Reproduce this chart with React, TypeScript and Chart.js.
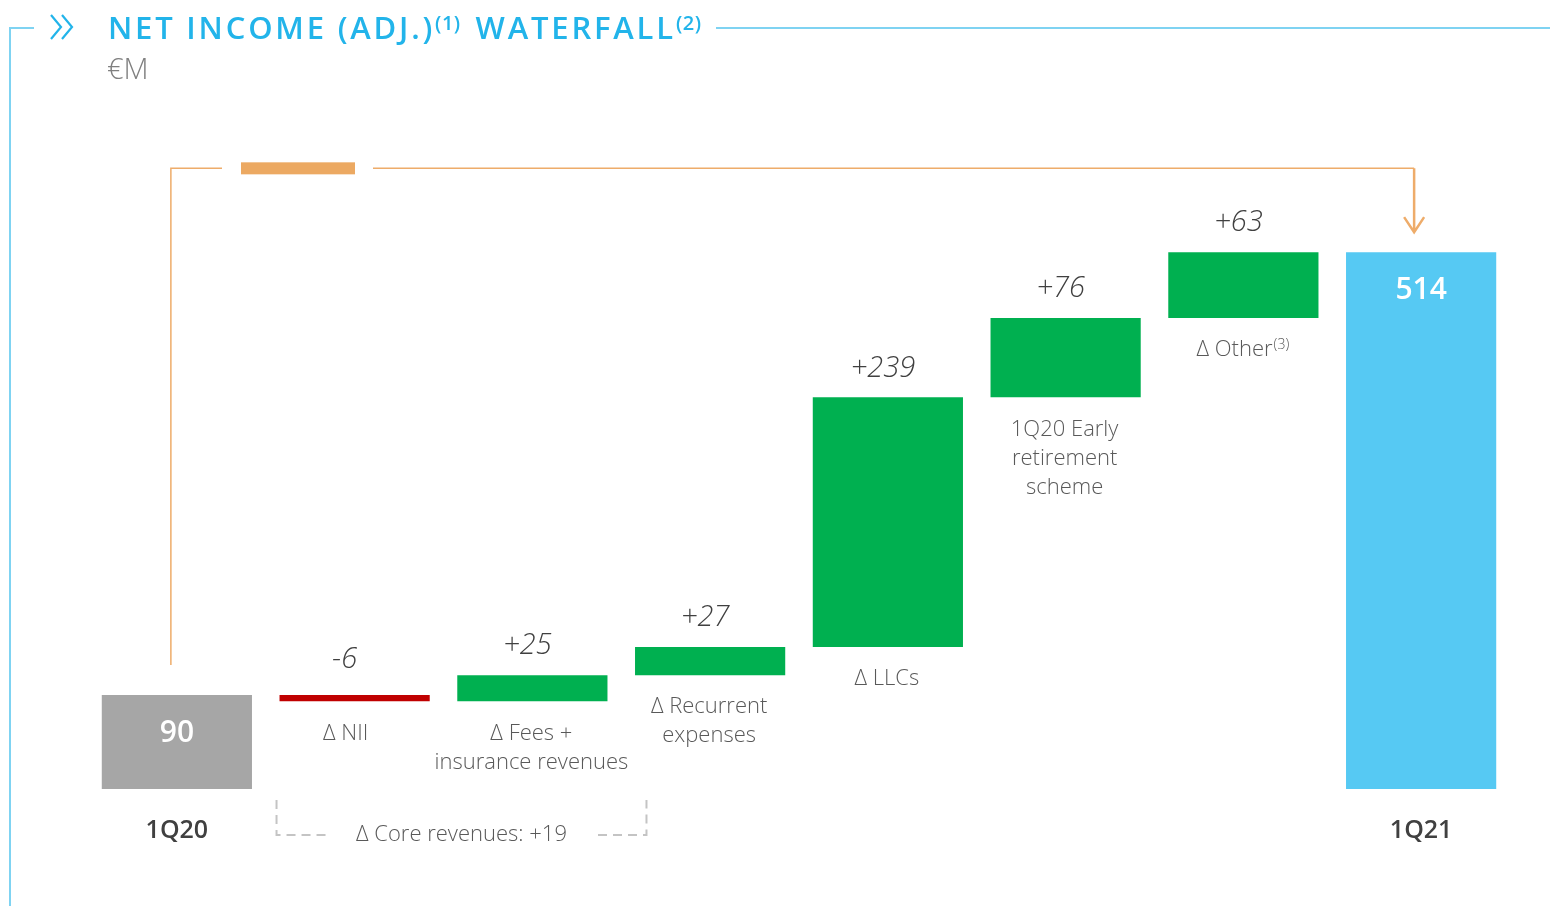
import React, { useEffect, useRef } from "react";
import { Chart, registerables } from "chart.js";

Chart.register(...registerables);

const categories: string[][] = [
  ["1Q20"],
  ["Δ NII"],
  ["Δ Fees +", "insurance revenues"],
  ["Δ Recurrent", "expenses"],
  ["Δ LLCs"],
  ["1Q20 Early", "retirement", "scheme"],
  ["Δ Other"],
  ["1Q21"],
];
const startValue = 90;
const changes = [-6, 25, 27, 239, 76, 63];
const endValue = 514;
const valueLabels = ["90", "-6", "+25", "+27", "+239", "+76", "+63", "514"];
const barColors = ["#a6a6a6", "#c00000", "#00b050", "#00b050", "#00b050", "#00b050", "#00b050", "#56c9f3"];
const coreRevenuesLabel = "Δ Core revenues: +19";
const titleParts = ["NET INCOME (ADJ.)", "(1)", " WATERFALL", "(2)"];
const unitLabel = "€M";
const yMax = 600;

function buildRanges(): [number, number][] {
  const out: [number, number][] = [[0, startValue]];
  let cur = startValue;
  for (const c of changes) {
    const next = cur + c;
    out.push([Math.min(cur, next), Math.max(cur, next)]);
    cur = next;
  }
  out.push([0, endValue]);
  return out;
}

const FONT = "'Open Sans', 'Noto Sans', sans-serif";

const decorPlugin = {
  id: "decor",
  afterDatasetsDraw(chart: any) {
    const ctx: CanvasRenderingContext2D = chart.ctx;
    const bars = chart.getDatasetMeta(0).data;
    const area = chart.chartArea;
    ctx.save();

    // frame
    ctx.strokeStyle = "#7fd3f2";
    ctx.lineWidth = 2;
    ctx.beginPath();
    ctx.moveTo(34, 28);
    ctx.lineTo(10, 28);
    ctx.lineTo(10, 906);
    ctx.stroke();
    ctx.beginPath();
    ctx.moveTo(716, 28);
    ctx.lineTo(1550, 28);
    ctx.stroke();

    // chevrons
    ctx.strokeStyle = "#22b4ea";
    ctx.lineWidth = 2.2;
    ctx.beginPath();
    ctx.moveTo(51, 15);
    ctx.lineTo(61, 27);
    ctx.lineTo(51, 39);
    ctx.moveTo(62, 15);
    ctx.lineTo(72, 27);
    ctx.lineTo(62, 39);
    ctx.stroke();

    // title
    ctx.fillStyle = "#22b4ea";
    ctx.textBaseline = "alphabetic";
    ctx.textAlign = "left";
    let tx = 108;
    titleParts.forEach((p, i) => {
      const sup = i % 2 === 1;
      ctx.font = sup ? `600 20px ${FONT}` : `600 31px ${FONT}`;
      (ctx as any).letterSpacing = sup ? "0.5px" : "2.8px";
      ctx.fillText(p, tx, sup ? 30 : 39);
      tx += ctx.measureText(p).width + (sup ? 4 : 0);
    });
    (ctx as any).letterSpacing = "0px";

    ctx.fillStyle = "#7f7f7f";
    ctx.font = `300 29px ${FONT}`;
    ctx.fillText(unitLabel, 107, 79);

    // orange bracket
    const b0 = bars[0];
    const bN = bars[bars.length - 1];
    const topY = area.top + 6;
    const lx = b0.x - 6;
    const rx = bN.x - 7;
    ctx.strokeStyle = "#eeac6a";
    ctx.lineWidth = 1.5;
    ctx.beginPath();
    ctx.moveTo(lx, 665);
    ctx.lineTo(lx, topY);
    ctx.lineTo(222, topY);
    ctx.moveTo(373, topY);
    ctx.lineTo(rx, topY);
    ctx.stroke();
    ctx.lineWidth = 2.5;
    ctx.beginPath();
    ctx.moveTo(rx, topY);
    ctx.lineTo(rx, bN.y - 20);
    ctx.moveTo(rx - 10, bN.y - 35);
    ctx.lineTo(rx, bN.y - 20);
    ctx.lineTo(rx + 10, bN.y - 35);
    ctx.stroke();
    ctx.fillStyle = "#eca962";
    ctx.fillRect(241, topY - 6, 114, 12);

    // value labels & category labels
    bars.forEach((bar: any, i: number) => {
      const top = Math.min(bar.y, bar.base);
      const bottom = Math.max(bar.y, bar.base);
      const isTotal = i === 0 || i === bars.length - 1;
      ctx.textAlign = "center";
      ctx.textBaseline = "middle";
      if (isTotal) {
        ctx.fillStyle = "#ffffff";
        ctx.font = `600 30px ${FONT}`;
        ctx.fillText(valueLabels[i], bar.x, top + 38);
        ctx.fillStyle = "#404040";
        ctx.font = `600 25px ${FONT}`;
        ctx.fillText(categories[i][0], bar.x, 831);
      } else {
        ctx.fillStyle = "#404040";
        ctx.font = `italic 300 29px ${FONT}`;
        ctx.fillText(valueLabels[i], bar.x - (i === 1 ? 10 : 5), top - (i === 1 ? 35 : 29));
        ctx.fillStyle = "#595959";
        const lines = categories[i];
        lines.forEach((ln, k) => {
          const y = bottom + 32 + k * 29;
          const cx = bar.x - (i === 1 ? 9 : 1);
          if (i === 6) {
            ctx.font = `300 22px ${FONT}`;
            const w1 = ctx.measureText(ln).width;
            ctx.font = `300 14px ${FONT}`;
            const w2 = ctx.measureText("(3)").width;
            const sx = cx - (w1 + w2) / 2;
            ctx.textAlign = "left";
            ctx.font = `300 22px ${FONT}`;
            ctx.fillText(ln, sx, y);
            ctx.font = `300 14px ${FONT}`;
            ctx.fillText("(3)", sx + w1 + 1, y - 5);
            ctx.textAlign = "center";
          } else {
            ctx.font = `300 22px ${FONT}`;
            ctx.fillText(ln, cx, y);
          }
        });
      }
    });

    // core revenues bracket
    const nii = bars[1];
    const fees = bars[2];
    const bl = nii.x - nii.width / 2 - 3;
    const br = fees.x + fees.width / 2 + 39;
    const by = 835;
    ctx.strokeStyle = "#c4c4c4";
    ctx.lineWidth = 2;
    ctx.setLineDash([9, 6]);
    ctx.beginPath();
    ctx.moveTo(bl, 800);
    ctx.lineTo(bl, by);
    ctx.lineTo(330, by);
    ctx.moveTo(598, by);
    ctx.lineTo(br, by);
    ctx.lineTo(br, 800);
    ctx.stroke();
    ctx.setLineDash([]);
    ctx.fillStyle = "#595959";
    ctx.font = `300 22px ${FONT}`;
    ctx.textAlign = "center";
    ctx.textBaseline = "middle";
    ctx.fillText(coreRevenuesLabel, (bl + br) / 2, by);

    ctx.restore();
  },
};

export default function App() {
  const ref = useRef<HTMLCanvasElement>(null);
  useEffect(() => {
    if (!ref.current) return;
    const ranges = buildRanges();
    const pxPerUnit = (789 - 695) / 90;
    const chart = new Chart(ref.current, {
      type: "bar",
      data: {
        labels: categories.map((c) => c.join(" ")),
        datasets: [
          {
            data: ranges as any,
            backgroundColor: barColors,
            borderWidth: 0,
            barPercentage: 0.845,
            categoryPercentage: 1,
          },
        ],
      },
      options: {
        responsive: false,
        animation: false,
        devicePixelRatio: 1,
        layout: {
          padding: { left: 88, right: 40, top: 789 - yMax * pxPerUnit, bottom: 906 - 789 },
        },
        plugins: { legend: { display: false }, tooltip: { enabled: false } },
        scales: {
          x: { display: false, offset: true },
          y: { display: false, min: 0, max: yMax },
        },
      },
      plugins: [decorPlugin],
    });
    return () => chart.destroy();
  }, []);
  return (
    <div style={{ position: "absolute", left: 0, top: 0, width: 1550, height: 906, background: "#fff" }}>
      <canvas ref={ref} width={1550} height={906} style={{ width: 1550, height: 906, display: "block" }} />
    </div>
  );
}
